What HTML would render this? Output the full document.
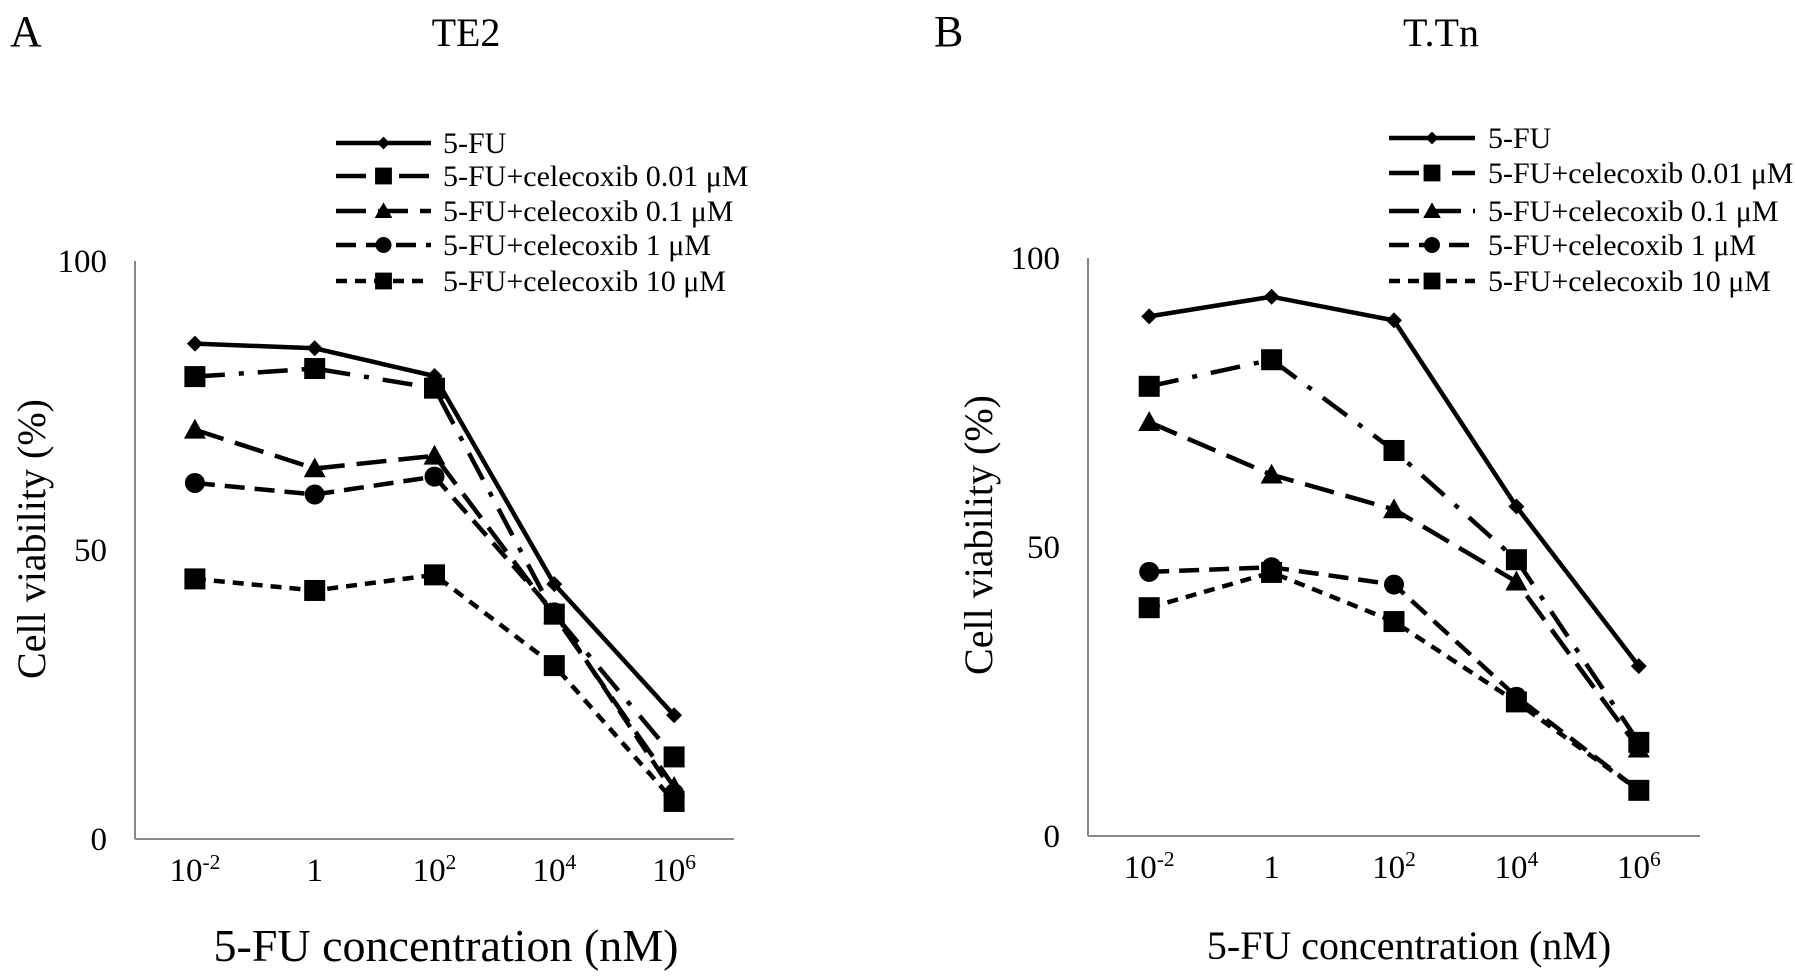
<!DOCTYPE html>
<html><head><meta charset="utf-8"><style>
html,body{margin:0;padding:0;background:#fff;}
svg{display:block;font-family:"Liberation Serif",serif;}
</style></head><body>
<svg id="chart" width="1795" height="977" viewBox="0 0 1795 977"></svg>
<script>
const categories = ["10^-2","1","10^2","10^4","10^6"];
const seriesNames = ["5-FU","5-FU+celecoxib 0.01 \u03bcM","5-FU+celecoxib 0.1 \u03bcM","5-FU+celecoxib 1 \u03bcM","5-FU+celecoxib 10 \u03bcM"];
const yTicks = [0,50,100];
const te2_fu = [85.7,84.9,80.1,44.1,21.4];
const te2_c001 = [80,81.4,78,38.9,14.2];
const te2_c01 = [70.8,64.1,66.3,38.7,9];
const te2_c1 = [61.6,59.6,62.7,39.2,7.9];
const te2_c10 = [45,43,45.7,30,6.5];
const ttn_fu = [89.9,93.3,89.2,57,29.4];
const ttn_c001 = [77.8,82.4,66.7,47.8,16.2];
const ttn_c01 = [71.6,62.5,56.5,44,15.1];
const ttn_c1 = [45.7,46.5,43.5,24.1,7.9];
const ttn_c10 = [39.5,45.6,37.1,23.2,7.9];

const NS="http://www.w3.org/2000/svg";
const svg=document.getElementById('chart');
function mk(tag,attrs,parent){const e=document.createElementNS(NS,tag);for(const k in attrs)e.setAttribute(k,attrs[k]);(parent||svg).appendChild(e);return e;}
const dashes=["none","30 14 5 14","30 12","20 10","11 8"];
const markers=["diamond","square","triangle","circle","square"];
function marker(g,type,x,y,small){
  let e;
  const s=small?0.8:1;
  if(type==="diamond"){e=mk('polygon',{points:`${x},${y-8*s} ${x+8*s},${y} ${x},${y+8*s} ${x-8*s},${y}`,fill:'#000'},g);}
  else if(type==="square"){const h=10.5*s;e=mk('rect',{x:x-h,y:y-h,width:2*h,height:2*h,fill:'#000'},g);}
  else if(type==="triangle"){const h=11*s;e=mk('polygon',{points:`${x},${y-h} ${x+h},${y+h*0.8} ${x-h},${y+h*0.8}`,fill:'#000'},g);}
  else {e=mk('circle',{cx:x,cy:y,r:10*s,fill:'#000'},g);}
  return e;
}
function supLabel(g,lab,x,y,size){
  const t=mk('text',{x:x,y:y,'text-anchor':'middle','font-size':size,fill:'#000'},g);
  if(lab.indexOf('^')>=0){const [b,p]=lab.split('^');t.textContent=b;const ts=mk('tspan',{dy:-12,'font-size':size*0.65},t);ts.textContent=p;}
  else t.textContent=lab;
  return t;
}
function panel(cfg){
  const g=mk('g',{});
  
  
  const xS=i=>cfg.x0+(cfg.x1-cfg.x0)/categories.length*(i+0.5);
  const yS=v=>cfg.y0-(cfg.y0-cfg.y100)*v/100;
  let t=mk('text',{x:cfg.letterX,y:46,'font-size':44},g);t.textContent=cfg.letter;
  
  t=mk('text',{x:cfg.titleX,y:46,'font-size':40,'text-anchor':'middle'},g);t.textContent=cfg.title;
  
  let a=mk('line',{x1:cfg.x0,y1:cfg.y100,x2:cfg.x0,y2:cfg.y0,stroke:'#888','stroke-width':2},g);
  
  a=mk('line',{x1:cfg.x0,y1:cfg.y0,x2:cfg.x1,y2:cfg.y0,stroke:'#888','stroke-width':2},g);
  
  yTicks.forEach(v=>{const tt=mk('text',{x:cfg.x0-28,y:yS(v)+11,'font-size':33,'text-anchor':'end'},g);tt.textContent=v;
    });
  categories.forEach((c,i)=>{const tt=supLabel(g,c,xS(i),cfg.y0+42,33);
    });
  t=mk('text',{x:cfg.xtX,y:cfg.xtY,'font-size':cfg.xtSize,'text-anchor':'middle'},g);t.textContent="5-FU concentration (nM)";
  
  t=mk('text',{x:0,y:0,'font-size':40,'text-anchor':'middle',transform:`translate(${cfg.ytX},${cfg.ytY}) rotate(-90)`},g);t.textContent="Cell viability (%)";
  
  cfg.data.forEach((vals,si)=>{
    const sg=mk('g',{},g);
    
    
    const pts=vals.map((v,i)=>xS(i)+','+yS(v)).join(' ');
    const pl=mk('polyline',{points:pts,fill:'none',stroke:'#000','stroke-width':4.5,'stroke-dasharray':dashes[si]},sg);
    
    vals.forEach((v,i)=>{const m=marker(sg,markers[si],xS(i),yS(v),false);
      });
    const ly=cfg.legY[si];
    const lg=mk('g',{},g);
    
    
    mk('line',{x1:cfg.legX0,y1:ly,x2:cfg.legX1,y2:ly,stroke:'#000','stroke-width':4.5,'stroke-dasharray':dashes[si]},lg);
    marker(lg,markers[si],(cfg.legX0+cfg.legX1)/2,ly,true);
    const lt=mk('text',{x:cfg.legTX,y:ly+10,'font-size':30},lg);lt.textContent=seriesNames[si];
  });
}
panel({name:'panel-te2',letter:'A',letterX:10,title:'TE2',titleX:466,x0:135,x1:734,y0:839,y100:261,
  xtX:446,xtY:961,xtSize:46,ytX:45,ytY:539,legX0:336,legX1:431,legTX:443,legY:[143,176,211,245,281],
  data:[te2_fu,te2_c001,te2_c01,te2_c1,te2_c10]});
panel({name:'panel-ttn',letter:'B',letterX:934,title:'T.Tn',titleX:1441,x0:1088,x1:1700,y0:836,y100:258,
  xtX:1409,xtY:959,xtSize:40,ytX:992,ytY:535,legX0:1389,legX1:1475,legTX:1488,legY:[138,173,211,245,281],
  data:[ttn_fu,ttn_c001,ttn_c01,ttn_c1,ttn_c10]});
</script>
</body></html>
